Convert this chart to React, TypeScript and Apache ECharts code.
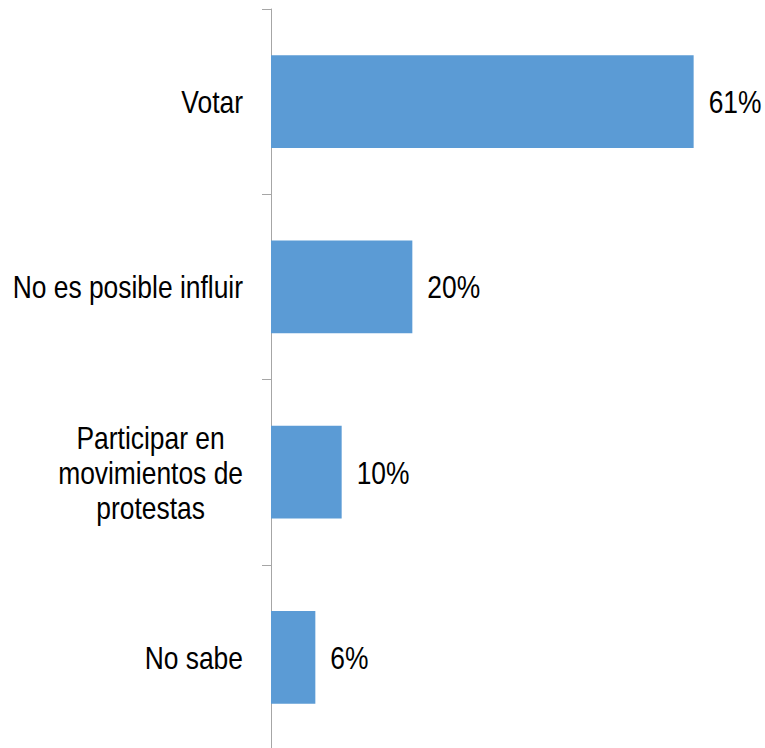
import React, { useEffect, useRef } from "react";
import * as echarts from "echarts";

const categories = [
  "Votar",
  "No es posible influir",
  "Participar en\nmovimientos de\nprotestas",
  "No sabe",
];
const values = [61.0, 20.4, 10.2, 6.4];

const FONT = '"Liberation Sans", Arial, sans-serif';
const FONT_SIZE = 32;
const NARROW = 0.825;

function blockWidth(text: string): number {
  const cv = document.createElement("canvas");
  const ctx = cv.getContext("2d");
  if (!ctx) return 0;
  ctx.font = `${FONT_SIZE}px ${FONT}`;
  return Math.max(...text.split("\n").map((l) => ctx.measureText(l).width));
}

export default function App() {
  const ref = useRef<HTMLDivElement>(null);
  useEffect(() => {
    if (!ref.current) return;
    const widths = categories.map((c) => blockWidth(c) * NARROW);
    const chart = echarts.init(ref.current, undefined, { renderer: "svg" });
    chart.setOption({
      animation: false,
      backgroundColor: "#ffffff",
      grid: {
        left: 271,
        right: 9,
        top: 9,
        bottom: 2,
        containLabel: false,
        outerBoundsMode: "none",
      },
      xAxis: {
        type: "value",
        min: 0,
        max: 70,
        show: false,
      },
      yAxis: {
        type: "category",
        data: categories,
        inverse: true,
        axisLine: { show: true, lineStyle: { color: "#a6a6a6", width: 1 } },
        axisTick: { show: true, length: 9, lineStyle: { color: "#a6a6a6" } },
        axisLabel: { show: false },
        splitLine: { show: false },
      },
      series: [
        {
          type: "bar",
          data: values,
          barWidth: "50%",
          itemStyle: { color: "#5B9BD5" },
          label: { show: false },
        },
        {
          type: "custom",
          clip: false,
          silent: true,
          data: categories.map((c, i) => [0, i]),
          renderItem: (params: any, api: any) => {
            const idx = params.dataIndex;
            const pt = api.coord([0, api.value(1)]);
            return {
              type: "text",
              x: pt[0] - 28 - widths[idx] / 2,
              y: pt[1],
              scaleX: NARROW,
              style: {
                text: categories[idx],
                fontFamily: FONT,
                fontSize: FONT_SIZE,
                lineHeight: 35,
                fill: "#000000",
                align: "center",
                verticalAlign: "middle",
              },
            };
          },
        },
        {
          type: "custom",
          clip: false,
          silent: true,
          data: values.map((v, i) => [v, i]),
          renderItem: (params: any, api: any) => {
            const v = api.value(0);
            const pt = api.coord([v, api.value(1)]);
            return {
              type: "text",
              x: pt[0] + 15,
              y: pt[1],
              scaleX: NARROW,
              style: {
                text: Math.round(v) + "%",
                fontFamily: FONT,
                fontSize: FONT_SIZE,
                fill: "#000000",
                align: "left",
                verticalAlign: "middle",
              },
            };
          },
        },
      ],
    });
    return () => chart.dispose();
  }, []);
  return (
    <div
      ref={ref}
      style={{ position: "fixed", left: 0, top: 0, width: 765, height: 752 }}
    />
  );
}
